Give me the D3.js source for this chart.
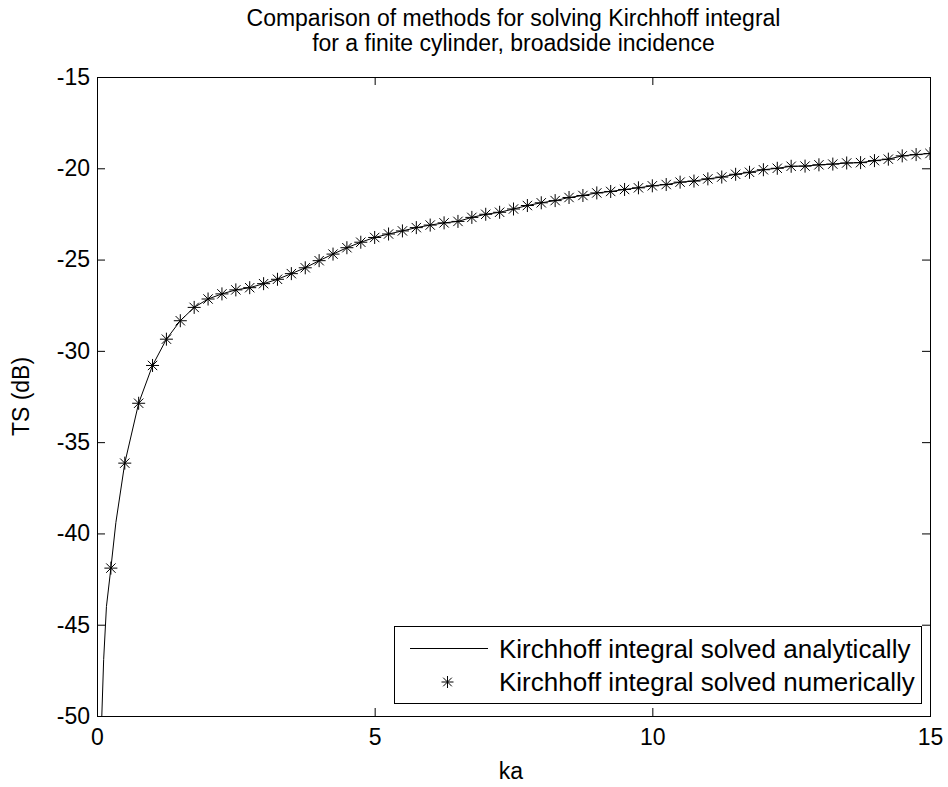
<!DOCTYPE html>
<html>
<head>
<meta charset="utf-8">
<script src="https://cdn.jsdelivr.net/npm/d3@7"></script>
<style>
  html, body { margin: 0; padding: 0; background: #fff; }
  svg { display: block; }
  text { font-family: "Liberation Sans", Arial, Helvetica, sans-serif; fill: #000; }
</style>
</head>
<body>
<svg id="chart" width="948" height="787"></svg>
<script>
// Target strength of a finite cylinder at broadside incidence (Kirchhoff integral)
const titleLines = [
  "Comparison of methods for solving Kirchhoff integral",
  "for a finite cylinder, broadside incidence"
];
const xLabel = "ka";
const yLabel = "TS (dB)";
const xTicks = [0, 5, 10, 15];
const yTicks = [-15, -20, -25, -30, -35, -40, -45, -50];
const legendLabels = [
  "Kirchhoff integral solved analytically",
  "Kirchhoff integral solved numerically"
];

// numerical solution, ka = 0.25 ... 15 in steps of 0.25
const kaNumeric = d3.range(1, 61).map(i => i * 0.25);
const tsNumeric = [
  -41.90, -36.15, -32.87, -30.80, -29.36, -28.35, -27.62, -27.16, -26.88, -26.66,
  -26.54, -26.32, -26.08, -25.77, -25.45, -25.06, -24.70, -24.35, -24.05, -23.79,
  -23.60, -23.43, -23.25, -23.11, -22.99, -22.91, -22.69, -22.52, -22.41, -22.23,
  -22.04, -21.89, -21.77, -21.60, -21.49, -21.35, -21.27, -21.16, -21.07, -20.96,
  -20.89, -20.76, -20.70, -20.58, -20.48, -20.33, -20.22, -20.08, -20.00, -19.89,
  -19.88, -19.81, -19.77, -19.71, -19.69, -19.58, -19.50, -19.32, -19.25, -19.19
];

// analytical solution, with extra samples near ka = 0
const kaAnalytic = [0.08, 0.12, 0.17, 0.25, 0.34, 0.5, 0.75, 1.0, 1.25, 1.5, 1.75, 2.0,
  2.25, 2.5, 2.75, 3.0, 3.25, 3.5, 3.75, 4.0, 4.25, 4.5, 4.75, 5.0, 5.25, 5.5, 5.75, 6.0,
  6.25, 6.5, 6.75, 7.0, 7.25, 7.5, 7.75, 8.0, 8.25, 8.5, 8.75, 9.0, 9.25, 9.5, 9.75, 10.0,
  10.25, 10.5, 10.75, 11.0, 11.25, 11.5, 11.75, 12.0, 12.25, 12.5, 12.75, 13.0, 13.25,
  13.5, 13.75, 14.0, 14.25, 14.5, 14.75, 15.0];
const tsAnalytic = [-50.6, -46.9, -44.0, -41.9, -39.4, -36.15, -32.87, -30.80, -29.36,
  -28.35, -27.62, -27.16, -26.88, -26.66, -26.54, -26.32, -26.08, -25.77, -25.45, -25.06,
  -24.70, -24.35, -24.05, -23.79, -23.60, -23.43, -23.25, -23.11, -22.99, -22.91, -22.69,
  -22.52, -22.41, -22.23, -22.04, -21.89, -21.77, -21.60, -21.49, -21.35, -21.27, -21.16,
  -21.07, -20.96, -20.89, -20.76, -20.70, -20.58, -20.48, -20.33, -20.22, -20.08, -20.00,
  -19.89, -19.88, -19.81, -19.77, -19.71, -19.69, -19.58, -19.50, -19.32, -19.25, -19.19];

const plot = { left: 97, right: 930, top: 77, bottom: 716 };
const tickFont = 23, titleFont = 23, legendFont = 26;
const tickLen = 8;

const svg = d3.select("#chart");

const x = d3.scaleLinear().domain([0, 15]).range([plot.left, plot.right]);
const y = d3.scaleLinear().domain([-50, -15]).range([plot.bottom, plot.top]);

// clip region for the data
svg.append("defs").append("clipPath").attr("id", "plot-clip")
  .append("rect")
  .attr("x", plot.left).attr("y", plot.top)
  .attr("width", plot.right - plot.left).attr("height", plot.bottom - plot.top);

// axes box with inward ticks on all four sides
const axisStyle = g => {
  g.select(".domain").remove();
  g.selectAll(".tick line").attr("stroke", "#000").attr("stroke-width", 1);
  g.selectAll(".tick text").style("font-size", tickFont + "px")
    .style("font-family", "'Liberation Sans', Arial, sans-serif").attr("fill", "#000");
};
const fmt = d => String(d);

svg.append("g").attr("transform", `translate(0,${plot.bottom})`)
  .call(d3.axisBottom(x).tickValues(xTicks).tickSize(-tickLen).tickPadding(13).tickFormat(fmt))
  .call(axisStyle);
svg.append("g").attr("transform", `translate(0,${plot.top})`)
  .call(d3.axisTop(x).tickValues(xTicks).tickSize(-tickLen).tickFormat(""))
  .call(axisStyle);
svg.append("g").attr("transform", `translate(${plot.left},0)`)
  .call(d3.axisLeft(y).tickValues(yTicks).tickSize(-tickLen).tickPadding(7).tickFormat(fmt))
  .call(axisStyle);
svg.append("g").attr("transform", `translate(${plot.right},0)`)
  .call(d3.axisRight(y).tickValues(yTicks).tickSize(-tickLen).tickFormat(""))
  .call(axisStyle);

svg.append("rect")
  .attr("x", plot.left + 0.5).attr("y", plot.top + 0.5)
  .attr("width", plot.right - plot.left).attr("height", plot.bottom - plot.top)
  .attr("fill", "none").attr("stroke", "#000").attr("stroke-width", 1);

// asterisk marker: plus and cross overlaid
const star = (g, r) => {
  const d = r * 0.72;
  g.append("line").attr("x1", -r).attr("x2", r).attr("y1", 0).attr("y2", 0);
  g.append("line").attr("x1", 0).attr("x2", 0).attr("y1", -r).attr("y2", r);
  g.append("line").attr("x1", -d).attr("x2", d).attr("y1", -d).attr("y2", d);
  g.append("line").attr("x1", -d).attr("x2", d).attr("y1", d).attr("y2", -d);
};

const dataLayer = svg.append("g").attr("clip-path", "url(#plot-clip)");

const analytic = kaAnalytic.map((k, i) => [k, tsAnalytic[i]]);
dataLayer.append("path")
  .datum(analytic)
  .attr("fill", "none").attr("stroke", "#000").attr("stroke-width", 1)
  .attr("d", d3.line().x(d => x(d[0])).y(d => y(d[1])));

const numeric = kaNumeric.map((k, i) => [k, tsNumeric[i]]);
dataLayer.selectAll("g.marker").data(numeric).join("g")
  .attr("class", "marker")
  .attr("transform", d => `translate(${x(d[0])},${y(d[1])})`)
  .attr("stroke", "#000").attr("stroke-width", 1)
  .each(function () { star(d3.select(this), 6.5); });

// title
svg.append("g").selectAll("text").data(titleLines).join("text")
  .attr("x", (plot.left + plot.right) / 2)
  .attr("y", (d, i) => 26 + i * 25)
  .attr("text-anchor", "middle")
  .style("font-size", titleFont + "px")
  .text(d => d);

// axis labels
svg.append("text")
  .attr("x", 511).attr("y", 779)
  .attr("text-anchor", "middle").style("font-size", tickFont + "px")
  .text(xLabel);
svg.append("text")
  .attr("transform", `translate(29,${(plot.top + plot.bottom) / 2}) rotate(-90)`)
  .attr("text-anchor", "middle").style("font-size", tickFont + "px")
  .text(yLabel);

// legend
const lg = { x0: 394, y0: 626, x1: 921, y1: 703 };
const legend = svg.append("g");
legend.append("rect")
  .attr("x", lg.x0 + 0.5).attr("y", lg.y0 + 0.5)
  .attr("width", lg.x1 - lg.x0).attr("height", lg.y1 - lg.y0)
  .attr("fill", "#fff").attr("stroke", "#000").attr("stroke-width", 1);
const rowY = [648.5, 682];
legend.append("line")
  .attr("x1", 410).attr("x2", 488).attr("y1", rowY[0]).attr("y2", rowY[0])
  .attr("stroke", "#000").attr("stroke-width", 1);
legend.append("g")
  .attr("transform", `translate(447.5,${rowY[1]})`)
  .attr("stroke", "#000").attr("stroke-width", 1)
  .call(g => star(g, 6));
legend.selectAll("text.lab").data(legendLabels).join("text")
  .attr("class", "lab")
  .attr("x", 499).attr("y", (d, i) => rowY[i] + 9)
  .style("font-size", legendFont + "px")
  .text(d => d);
</script>
</body>
</html>
